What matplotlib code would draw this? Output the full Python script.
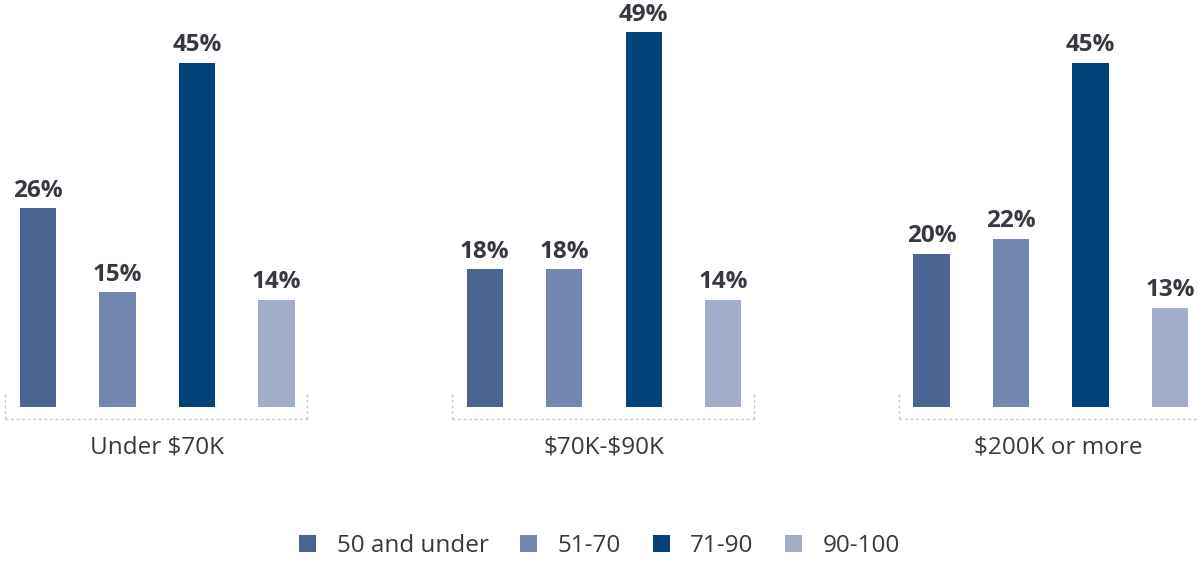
import numpy as np
import matplotlib.pyplot as plt

plt.rcParams['font.family'] = ['Open Sans', 'DejaVu Sans']
plt.rcParams['text.parse_math'] = False

groups = ['Under $70K', '$70K-$90K', '$200K or more']
series = ['50 and under', '51-70', '71-90', '90-100']
values = {
    '50 and under': [26, 18, 20],
    '51-70': [15, 18, 22],
    '71-90': [45, 49, 45],
    '90-100': [14, 14, 13],
}
colors = ['#4b6593', '#7386ae', '#00427a', '#a2adc9']
text_color = '#383843'

fig = plt.figure(figsize=(11.99, 5.65), dpi=100)
ax = fig.add_axes([0, 0, 1, 1])

group_step = 5.62
bar_w = 0.455
xg = np.arange(len(groups)) * group_step

handles = []
for i, (name, col) in enumerate(zip(series, colors)):
    vals = values[name]
    bars = ax.bar(xg + i, vals, width=bar_w, color=col, label=name)
    handles.append(bars)
    for x, v in zip(xg + i, vals):
        ax.text(x, v + 0.75, f'{v}%', ha='center', va='bottom',
                fontsize=17.5, fontweight='bold', color=text_color)

# dotted bracket under each group
for g, x0 in enumerate(xg):
    left, right = x0 - 0.415, x0 + 3.385
    ax.plot([left, right], [-1.57, -1.57], color='#c4c4c8', lw=1,
            ls=(0, (2, 2)), clip_on=False)
    ax.plot([left, left], [-1.57, 1.9], color='#c4c4c8', lw=1,
            ls=(0, (2, 2)))
    ax.plot([right, right], [-1.57, 1.9], color='#c4c4c8', lw=1,
            ls=(0, (2, 2)))
    ax.text(x0 + 1.5 + (0.09 if g == 2 else 0), -5.35, groups[g],
            ha='center', va='center', fontsize=17.5, color=text_color)

ax.set_xlim(-0.478, 14.604)
ax.set_ylim(-20.67, 53.24)
ax.axis('off')

fig.legend(handles=handles, labels=series, ncol=4, frameon=False,
           loc='center', bbox_to_anchor=(0.5, 1 - 546 / 565),
           fontsize=17.5, handlelength=0.7, handleheight=0.7,
           handletextpad=0.85, columnspacing=1.3, labelcolor=text_color)

fig.savefig('out.png', dpi=100)
